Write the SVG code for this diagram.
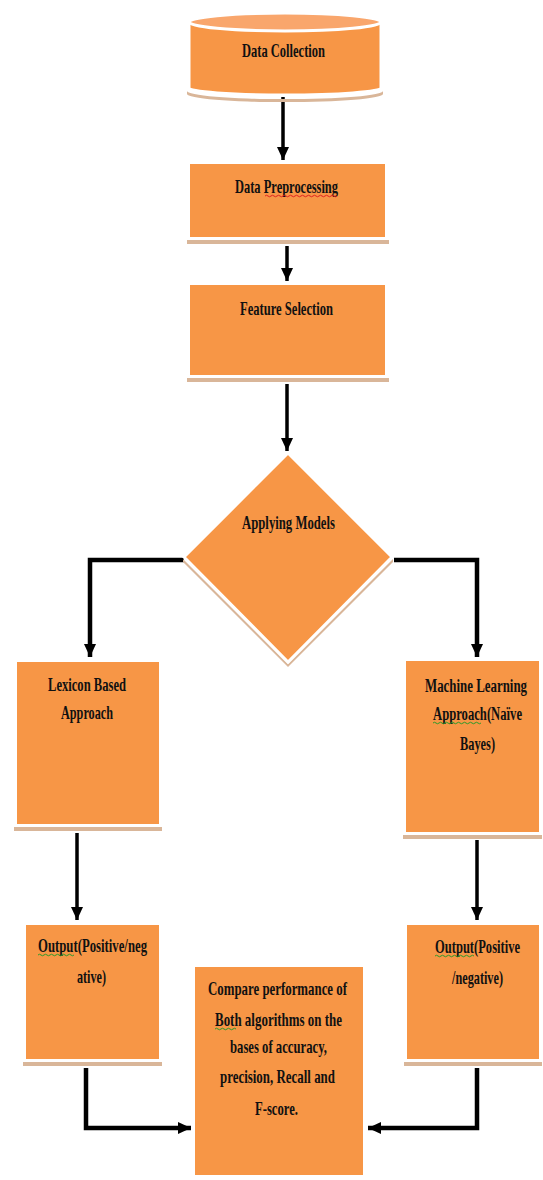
<svg xmlns="http://www.w3.org/2000/svg" width="543" height="1180" viewBox="0 0 543 1180">
<style>
.bg{fill:#ffffff}
.shape{fill:#F79646;stroke:#ffffff;stroke-width:3}
.shadow{fill:#D9B699}
.top{fill:#F9A66C;stroke:#ffffff;stroke-width:3}
.lbl{font-family:"Liberation Serif","Times New Roman",serif;font-weight:bold;font-size:19px;fill:#111111;text-anchor:middle}
.conn{fill:none;stroke:#000000;stroke-width:3.5;stroke-linejoin:miter}
.elb{fill:none;stroke:#000000;stroke-width:4.5;stroke-linejoin:miter}
.red{fill:none;stroke:#e02020;stroke-width:1}
.grn{fill:none;stroke:#2a9a2a;stroke-width:1}
</style>
<defs>
<marker id="ah" markerUnits="userSpaceOnUse" markerWidth="14" markerHeight="12" refX="13" refY="6" orient="auto">
<path d="M0,0 L13,6 L0,12 z" fill="#000000"/>
</marker>
</defs>
<rect class="bg" x="0" y="0" width="543" height="1180"/>

<g id="connectors">
<path class="conn" d="M283,97 V160" marker-end="url(#ah)"/>
<path class="conn" d="M287,246 V281" marker-end="url(#ah)"/>
<path class="conn" d="M287,384 V451" marker-end="url(#ah)"/>
<path class="elb" d="M184,560 H90 V657" marker-end="url(#ah)"/>
<path class="elb" d="M394,560 H477 V657" marker-end="url(#ah)"/>
<path class="conn" d="M77,833 V920" marker-end="url(#ah)"/>
<path class="conn" d="M477,840 V920" marker-end="url(#ah)"/>
<path class="elb" d="M86,1068 V1128 H191" marker-end="url(#ah)"/>
<path class="elb" d="M477,1068 V1128 H368" marker-end="url(#ah)"/>
</g>

<g id="data-collection">
<path class="shadow" d="M187,91 A97,8 0 0 0 383,91 L383,94 A97,8 0 0 1 187,94 Z"/>
<path class="shape" d="M189,22 L189,88 A96,7 0 0 0 381,88 L381,22 Z"/>
<ellipse class="top" cx="285" cy="22" rx="96" ry="9"/>
<text class="lbl" x="283.5" y="57" textLength="83" lengthAdjust="spacingAndGlyphs">Data Collection</text>
</g>

<g id="data-preprocessing">
<rect class="shadow" x="187" y="240" width="202" height="4"/>
<rect class="shape" x="188.5" y="162.5" width="198" height="76"/>
<text class="lbl" x="286.5" y="193" textLength="103" lengthAdjust="spacingAndGlyphs">Data Preprocessing</text>
<path class="red" d="M265,196 q1.5,-1.5 3,0 t3,0 t3,0 t3,0 t3,0 t3,0 t3,0 t3,0 t3,0 t3,0 t3,0 t3,0 t3,0 t3,0 t3,0 t3,0 t3,0 t3,0 t3,0 t3,0 t3,0 t3,0 t3,0 t3,0"/>
</g>

<g id="feature-selection">
<rect class="shadow" x="187" y="378" width="202" height="4"/>
<rect class="shape" x="188.5" y="283.5" width="198" height="93"/>
<text class="lbl" x="286.5" y="315" textLength="93" lengthAdjust="spacingAndGlyphs">Feature Selection</text>
</g>

<g id="applying-models">
<polygon class="shadow" points="183,559 288,664 393,559 393,562 288,667 183,562"/>
<polygon class="shape" points="288,453 392,557 288,662 184,557"/>
<text class="lbl" x="288.5" y="529" textLength="93" lengthAdjust="spacingAndGlyphs">Applying Models</text>
</g>

<g id="lexicon-based">
<rect class="shadow" x="14" y="827" width="148" height="4"/>
<rect class="shape" x="15.5" y="660.5" width="145" height="165"/>
<text class="lbl" x="87" y="691" textLength="78" lengthAdjust="spacingAndGlyphs">Lexicon Based</text>
<text class="lbl" x="87" y="719" textLength="52" lengthAdjust="spacingAndGlyphs">Approach</text>
</g>

<g id="machine-learning">
<rect class="shadow" x="403" y="835" width="139" height="4"/>
<rect class="shape" x="404.5" y="659.5" width="136" height="174"/>
<text class="lbl" transform="translate(476,692) scale(0.72,1)" x="0" y="0" textLength="141.7" lengthAdjust="spacingAndGlyphs">Machine Learning</text>
<text class="lbl" transform="translate(477.5,720) scale(0.72,1)" x="0" y="0" textLength="123.6" lengthAdjust="spacingAndGlyphs">Approach(Naïve</text>
<path class="grn" d="M433,723 q1.5,-1.5 3,0 t3,0 t3,0 t3,0 t3,0 t3,0 t3,0 t3,0 t3,0 t3,0 t3,0 t3,0 t3,0 t3,0 t3,0 t3,0"/>
<text class="lbl" x="477.5" y="750" textLength="35" lengthAdjust="spacingAndGlyphs">Bayes)</text>
</g>

<g id="output-left">
<rect class="shadow" x="23" y="1062" width="139" height="4"/>
<rect class="shape" x="24.5" y="923.5" width="136" height="137"/>
<text class="lbl" x="92.5" y="952" textLength="109" lengthAdjust="spacingAndGlyphs">Output(Positive/neg</text>
<path class="grn" d="M38,955 q1.5,-1.5 3,0 t3,0 t3,0 t3,0 t3,0 t3,0 t3,0 t3,0 t3,0 t3,0 t3,0 t3,0"/>
<text class="lbl" x="91.5" y="983" textLength="29" lengthAdjust="spacingAndGlyphs">ative)</text>
</g>

<g id="output-right">
<rect class="shadow" x="404" y="1062" width="138" height="4"/>
<rect class="shape" x="405.5" y="923.5" width="135" height="137"/>
<text class="lbl" transform="translate(477.5,953) scale(0.72,1)" x="0" y="0" textLength="118" lengthAdjust="spacingAndGlyphs">Output(Positive</text>
<path class="grn" d="M435,956 q1.5,-1.5 3,0 t3,0 t3,0 t3,0 t3,0 t3,0 t3,0 t3,0 t3,0 t3,0 t3,0 t3,0 t3,0"/>
<text class="lbl" x="477.5" y="984" textLength="51" lengthAdjust="spacingAndGlyphs">/negative)</text>
</g>

<g id="compare">
<rect class="shape" x="193.5" y="965.5" width="171" height="211"/>
<text class="lbl" x="277.5" y="995" textLength="139" lengthAdjust="spacingAndGlyphs">Compare performance of</text>
<text class="lbl" x="278.5" y="1026" textLength="127" lengthAdjust="spacingAndGlyphs">Both algorithms on the</text>
<path class="grn" d="M215,1029 q1.5,-1.5 3,0 t3,0 t3,0 t3,0 t3,0 t3,0 t3,0"/>
<text class="lbl" x="278.5" y="1053" textLength="97" lengthAdjust="spacingAndGlyphs">bases of accuracy,</text>
<text class="lbl" x="277.5" y="1083" textLength="115" lengthAdjust="spacingAndGlyphs">precision, Recall and</text>
<text class="lbl" x="276.5" y="1115" textLength="43" lengthAdjust="spacingAndGlyphs">F-score.</text>
</g>
</svg>
